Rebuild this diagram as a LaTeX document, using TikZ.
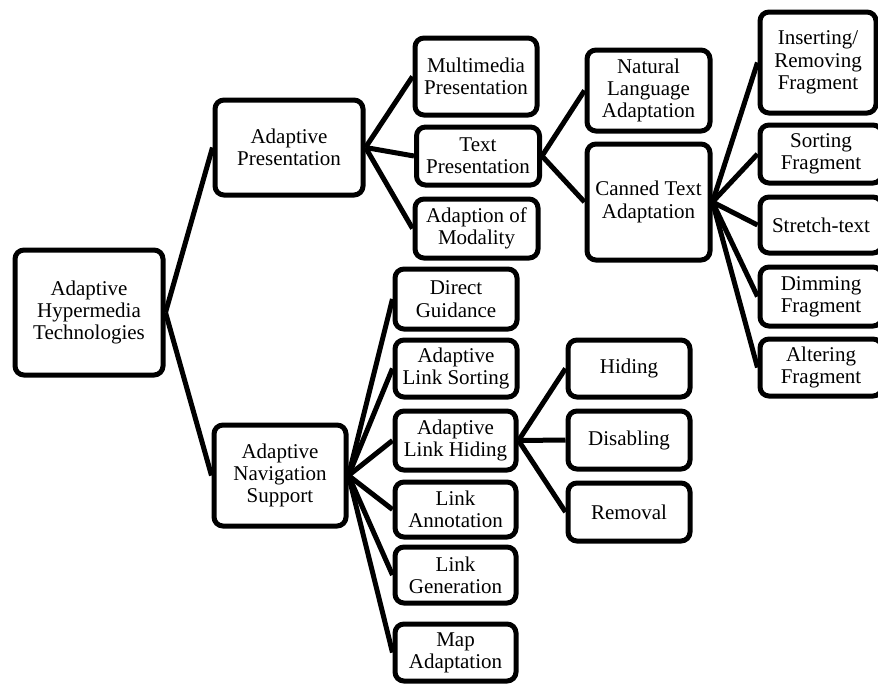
\documentclass[tikz,border=0pt]{standalone}
\usepackage{fontspec}
\setmainfont{Liberation Serif}
\begin{document}
\begin{tikzpicture}[x=1pt,y=-1pt,
  box/.style={draw=black, line width=5pt, rounded corners=9pt, fill=white,
    align=center, inner sep=0pt, font=\fontsize{21}{22.3}\selectfont},
  link/.style={draw=black, line width=5pt}]
\useasboundingbox (0,0) rectangle (878,686);
\clip (0,0) rectangle (878,686);
% a box given by its name, centre, width, height and text
\newcommand{\tbox}[6]{\node[box, minimum width=#4pt, minimum height=#5pt] (#1) at (#2,#3) {#6};}

% level 0
\tbox{root}{89}{312.5}{148}{125}{Adaptive\\Hypermedia\\Technologies}
% level 1
\tbox{ap}{289}{147.5}{148}{95}{Adaptive\\Presentation}
\tbox{ans}{280}{475.5}{132}{101}{Adaptive\\Navigation\\Support}
% level 2, presentation branch
\tbox{mm}{476}{76.5}{122}{77}{Multimedia\\Presentation}
\tbox{tp}{478}{156}{123}{58}{Text\\Presentation}
\tbox{mod}{476.5}{228.5}{123}{59}{Adaption of\\Modality}
% level 2, navigation branch
\tbox{dg}{456}{299}{122}{60}{Direct\\Guidance}
\tbox{als}{456}{368.5}{122}{57}{Adaptive\\Link Sorting}
\tbox{alh}{455.5}{440.5}{121}{59}{Adaptive\\Link Hiding}
\tbox{la}{455.5}{509.5}{121}{55}{Link\\Annotation}
\tbox{lg}{455.5}{575}{121}{56}{Link\\Generation}
\tbox{map}{455.5}{652.5}{121}{57}{Map\\Adaptation}
% level 3
\tbox{nla}{648.5}{90.5}{123}{81}{Natural\\Language\\Adaptation}
\tbox{cta}{648.5}{202}{123}{116}{Canned Text\\Adaptation}
\tbox{hid}{629}{368.5}{122}{57}{Hiding}
\tbox{dis}{629}{440}{122}{58}{Disabling}
\tbox{rem}{629}{512}{122}{58}{Removal}
% level 4
\tbox{ins}{818}{62.5}{116}{101}{Inserting/\\Removing\\Fragment}
\tbox{sor}{821}{154}{122}{58}{Sorting\\Fragment}
\tbox{str}{821}{225}{122}{56}{Stretch-text}
\tbox{dim}{821}{296.5}{122}{59}{Dimming\\Fragment}
\tbox{alt}{821}{367.5}{122}{57}{Altering\\Fragment}

% connectors, parent right side to child left side
\foreach \p/\c in {root/ap, root/ans,
                   ap/mm, ap/tp, ap/mod,
                   tp/nla, tp/cta,
                   cta/ins, cta/sor, cta/str, cta/dim, cta/alt,
                   ans/dg, ans/als, ans/alh, ans/la, ans/lg, ans/map,
                   alh/hid, alh/dis, alh/rem}
  \draw[link] (\p.east) -- (\c.west);
\end{tikzpicture}
\end{document}
